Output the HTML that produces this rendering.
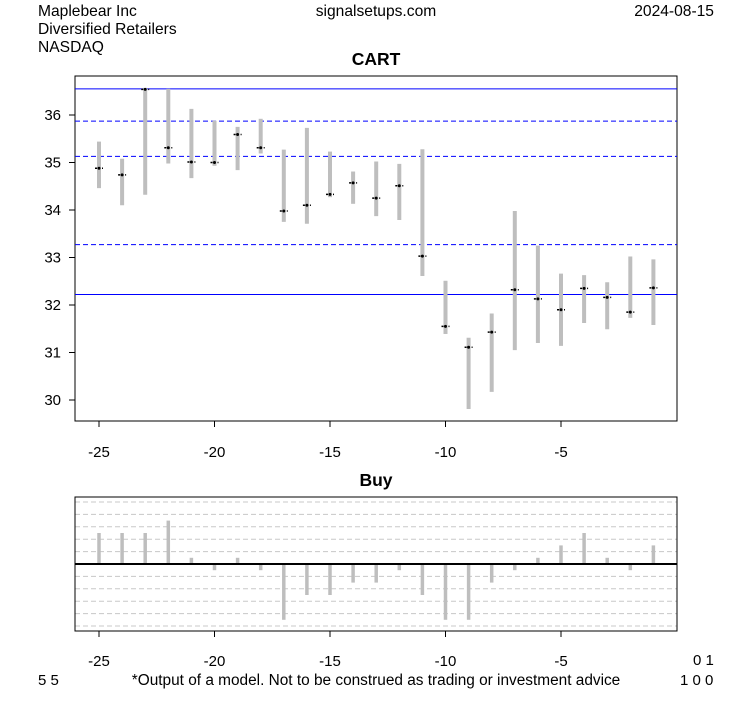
<!DOCTYPE html>
<html><head><meta charset="utf-8"><style>
body{margin:0;background:#fff;font-family:"Liberation Sans",sans-serif}
svg text{font-family:"Liberation Sans",sans-serif}
</style></head><body>
<svg width="753" height="708" xmlns="http://www.w3.org/2000/svg">
<text x="38" y="16" font-size="15.6">Maplebear Inc</text>
<text x="38" y="34" font-size="15.6">Diversified Retailers</text>
<text x="38" y="52" font-size="15.6">NASDAQ</text>
<text x="376" y="16" font-size="15.6" text-anchor="middle">signalsetups.com</text>
<text x="714" y="16" font-size="15.6" text-anchor="end">2024-08-15</text>
<text x="376" y="65" font-size="17.5" font-weight="bold" text-anchor="middle">CART</text>
<text x="376" y="486" font-size="17.5" font-weight="bold" text-anchor="middle">Buy</text>
<g id="main"></g>
<g id="sub"></g>
<text x="693" y="665" font-size="15">0 1</text>
<text x="38" y="685" font-size="15">5 5</text>
<text x="680" y="685" font-size="15">1 0 0</text>
<text x="376" y="685" font-size="15.4" text-anchor="middle">*Output of a model. Not to be construed as trading or investment advice</text>
</svg>
<script>
const days=[-25,-24,-23,-22,-21,-20,-19,-18,-17,-16,-15,-14,-13,-12,-11,-10,-9,-8,-7,-6,-5,-4,-3,-2,-1];
const highs=[35.44,35.08,36.57,36.55,36.13,35.88,35.75,35.92,35.27,35.73,35.23,34.81,35.02,34.97,35.28,32.51,31.31,31.82,33.98,33.25,32.66,32.63,32.48,33.02,32.96];
const lows=[34.46,34.10,34.32,34.98,34.67,34.93,34.84,35.19,33.75,33.71,34.27,34.13,33.87,33.79,32.61,31.39,29.81,30.17,31.05,31.20,31.14,31.62,31.49,31.73,31.58];
const closes=[34.88,34.74,36.54,35.31,35.01,35.00,35.59,35.31,33.98,34.10,34.33,34.57,34.25,34.51,33.03,31.55,31.11,31.43,32.32,32.13,31.90,32.35,32.16,31.85,32.36];
const signals=[2.5,2.5,2.5,3.5,0.5,-0.5,0.5,-0.5,-4.5,-2.5,-2.5,-1.5,-1.5,-0.5,-2.5,-4.5,-4.5,-1.5,-0.5,0.5,1.5,2.5,0.5,-0.5,1.5];
const yTicks=[30,31,32,33,34,35,36];
const xTicks=[-25,-20,-15,-10,-5];
const levels=[{v:36.55,d:false},{v:35.87,d:true},{v:35.13,d:true},{v:33.27,d:true},{v:32.22,d:false}];
const NS="http://www.w3.org/2000/svg";
const X0=75,X1=677;
const x=d=>99+(d+25)*23.1;
const y=v=>115+(36-v)*47.5;
const ys=v=>564-v*12.4;
function mk(p,t,a){const e=document.createElementNS(NS,t);for(const k in a)e.setAttribute(k,a[k]);p.appendChild(e);return e;}
const g=document.getElementById('main'),s=document.getElementById('sub');
let e;
e=mk(g,'rect',{x:X0,y:76,width:X1-X0,height:345,fill:'none',stroke:'#000'});


levels.forEach(l=>{e=mk(g,'line',{x1:X0,x2:X1,y1:y(l.v),y2:y(l.v),stroke:'#0000ff','stroke-width':1,'stroke-dasharray':l.d?'5,3':'none'});

});
yTicks.forEach(t=>{mk(g,'line',{x1:X0-6,x2:X0,y1:y(t),y2:y(t),stroke:'#000'});
e=mk(g,'text',{x:X0-14,y:y(t)+5,'font-size':15,'text-anchor':'end'});e.textContent=t;

});
xTicks.forEach(t=>{mk(g,'line',{x1:x(t),x2:x(t),y1:421,y2:427,stroke:'#000'});
e=mk(g,'text',{x:x(t),y:457,'font-size':15,'text-anchor':'middle'});e.textContent=t;


mk(s,'line',{x1:x(t),x2:x(t),y1:631,y2:637,stroke:'#000'});
e=mk(s,'text',{x:x(t),y:666,'font-size':15,'text-anchor':'middle'});e.textContent=t;

});
days.forEach((d,i)=>{
e=mk(g,'line',{x1:x(d),x2:x(d),y1:y(highs[i]),y2:y(lows[i]),stroke:'#bebebe','stroke-width':4});


e=mk(g,'line',{x1:x(d)-4,x2:x(d)+4,y1:y(closes[i]),y2:y(closes[i]),stroke:'#000','stroke-width':1.5,'stroke-dasharray':'2,1,2'});


e=mk(g,'circle',{cx:x(d),cy:y(closes[i]),r:1.5,fill:'#000'});


});
for(let k=-5;k<=5;k++){if(k===0)continue;
e=mk(s,'line',{x1:X0,x2:X1,y1:ys(k),y2:ys(k),stroke:'#c8c8c8','stroke-dasharray':'5,3'});

}
days.forEach((d,i)=>{
e=mk(s,'line',{x1:x(d),x2:x(d),y1:ys(0),y2:ys(signals[i]),stroke:'#bebebe','stroke-width':3.5});

});
e=mk(s,'line',{x1:X0,x2:X1,y1:ys(0),y2:ys(0),stroke:'#000','stroke-width':2});


e=mk(s,'rect',{x:X0,y:497,width:X1-X0,height:134,fill:'none',stroke:'#000'});


</script>
</body></html>
